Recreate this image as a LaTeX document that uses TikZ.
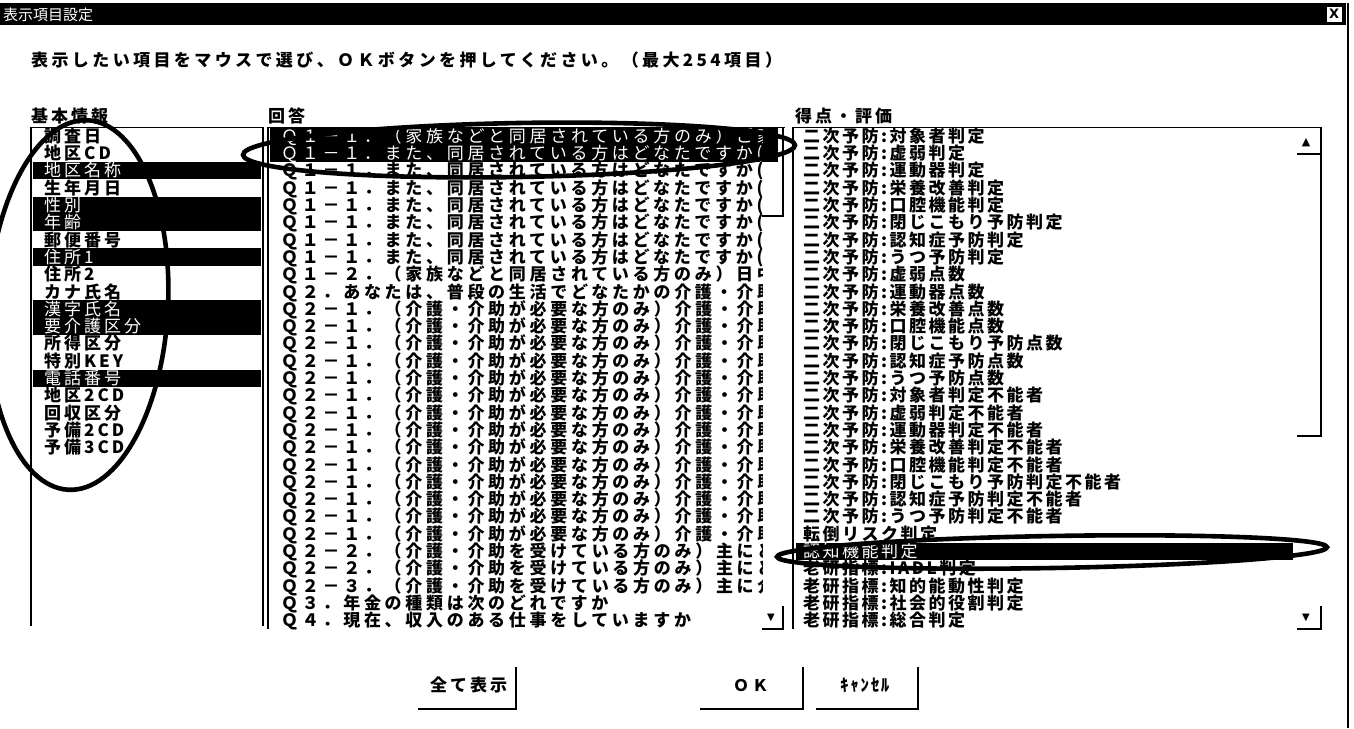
\documentclass[tikz,border=0pt]{standalone}
\usepackage{fontspec}
\usetikzlibrary{shapes.geometric}
\newfontfamily\jpA{Noto Sans CJK JP}
\newfontfamily\jpL[LetterSpace=17.6]{Noto Sans CJK JP}
\newfontfamily\jpM[LetterSpace=21.8]{Noto Sans CJK JP}
\newfontfamily\jpR[LetterSpace=14.7]{Noto Sans CJK JP}
\newfontfamily\jpI[LetterSpace=20]{Noto Sans CJK JP}
\newfontfamily\symf{DejaVu Sans}
\begin{document}
\begin{tikzpicture}[x=1pt,y=-1pt,
  frame/.style={line width=1.6pt},
  circ/.style={draw, ellipse, line width=4.6pt, inner sep=0pt},
  rowtxt/.style={anchor=base west, inner sep=0pt, text height=12.5pt, text depth=3.5pt},
  ltx/.style={rowtxt, font=\jpL\fontsize{17pt}{17pt}\selectfont},
  mtx/.style={rowtxt, font=\jpM\fontsize{17pt}{17pt}\selectfont},
  rtx/.style={rowtxt, font=\jpR\fontsize{17pt}{17pt}\selectfont},
  hdr/.style={anchor=base west, inner sep=0pt, font=\jpL\fontsize{17pt}{17pt}\selectfont\bfseries},
  nrm/.style={text=black, execute at begin node=\bfseries},
  sel/.style={text=white}]
\useasboundingbox (0,0) rectangle (1354,728);
\fill[white] (0,0) rectangle (1354,728);
% title bar
\fill[black] (0,3) rectangle (1346,25);
\node[anchor=base west, inner sep=0pt, text=white, font=\jpA\fontsize{15pt}{15pt}\selectfont] (title) at (3,20) {表示項目設定};
\node[draw=black, fill=white, line width=1pt, minimum width=16pt, minimum height=16pt, inner sep=0pt, font=\symf\bfseries\fontsize{13pt}{13pt}\selectfont] (closebtn) at (1334,14) {X};
\draw[line width=2pt] (1347.5,3) -- (1347.5,728);
% instruction
\node[anchor=base west, inner sep=0pt, font=\jpI\fontsize{17pt}{17pt}\selectfont\bfseries] (instr) at (31,66) {表示したい項目をマウスで選び、ＯＫボタンを押してください。（最大254項目）};
% headers
\node[hdr] (h1) at (31,122) {基本情報};
\node[hdr] (h2) at (268,122) {回答};
\node[hdr] (h3) at (795,122) {得点・評価};
% list frames
\draw[frame] (31,626) -- (31,127.5) -- (263,127.5) -- (263,626);
\draw[frame] (268,629) -- (268,127.5) -- (785,127.5);
\draw[frame] (762,216) -- (783,216) -- (783,127.5);
\draw[frame] (762,629) -- (783,629) -- (783,606);
\node[inner sep=0pt, font=\symf\fontsize{10pt}{10pt}\selectfont] (mdown) at (771,618) {▼};
\draw[frame] (793,629) -- (793,127.5) -- (1321,127.5) -- (1321,436) -- (1297,436);
\draw[frame] (1297,154) -- (1320,154);
\node[inner sep=0pt, font=\symf\fontsize{11pt}{11pt}\selectfont] (rup) at (1306,143) {▲};
\draw[frame] (1297,629) -- (1321,629) -- (1321,606);
\node[inner sep=0pt, font=\symf\fontsize{10pt}{10pt}\selectfont] (rdown) at (1306,618) {▼};
% left list
\foreach \n in {2,4,5,7,10,11,14} \fill (33,{127.35+17.3*\n}) rectangle (261,{144.65+17.3*\n});
\foreach \c/\t [count=\n from 0] in {nrm/調査日,nrm/地区CD,sel/地区名称,nrm/生年月日,sel/性別,sel/年齢,nrm/郵便番号,sel/住所1,nrm/住所2,nrm/カナ氏名,sel/漢字氏名,sel/要介護区分,nrm/所得区分,nrm/特別KEY,sel/電話番号,nrm/地区2CD,nrm/回収区分,nrm/予備2CD,nrm/予備3CD}
  \node[ltx,\c] (l\n) at (44,{142.3+17.3*\n}) {\t};
% middle list
\fill (270,127.35) rectangle (778,162);
\begin{scope}
\clip (269,120) rectangle (762,640);
\foreach \c/\t [count=\n from 0] in {sel/Ｑ１－１．（家族などと同居されている方のみ）ご家族,sel/Ｑ１－１．また、同居されている方はどなたですか(複数,nrm/Ｑ１－１．また、同居されている方はどなたですか(複数,nrm/Ｑ１－１．また、同居されている方はどなたですか(複数,nrm/Ｑ１－１．また、同居されている方はどなたですか(複数,nrm/Ｑ１－１．また、同居されている方はどなたですか(複数,nrm/Ｑ１－１．また、同居されている方はどなたですか(複数,nrm/Ｑ１－１．また、同居されている方はどなたですか(複数,nrm/Ｑ１－２．（家族などと同居されている方のみ）日中,nrm/Ｑ２．あなたは、普段の生活でどなたかの介護・介助は,nrm/Ｑ２－１．（介護・介助が必要な方のみ）介護・介助が,nrm/Ｑ２－１．（介護・介助が必要な方のみ）介護・介助が,nrm/Ｑ２－１．（介護・介助が必要な方のみ）介護・介助が,nrm/Ｑ２－１．（介護・介助が必要な方のみ）介護・介助が,nrm/Ｑ２－１．（介護・介助が必要な方のみ）介護・介助が,nrm/Ｑ２－１．（介護・介助が必要な方のみ）介護・介助が,nrm/Ｑ２－１．（介護・介助が必要な方のみ）介護・介助が,nrm/Ｑ２－１．（介護・介助が必要な方のみ）介護・介助が,nrm/Ｑ２－１．（介護・介助が必要な方のみ）介護・介助が,nrm/Ｑ２－１．（介護・介助が必要な方のみ）介護・介助が,nrm/Ｑ２－１．（介護・介助が必要な方のみ）介護・介助が,nrm/Ｑ２－１．（介護・介助が必要な方のみ）介護・介助が,nrm/Ｑ２－１．（介護・介助が必要な方のみ）介護・介助が,nrm/Ｑ２－１．（介護・介助が必要な方のみ）介護・介助が,nrm/Ｑ２－２．（介護・介助を受けている方のみ）主にどなた,nrm/Ｑ２－２．（介護・介助を受けている方のみ）主にどなた,nrm/Ｑ２－３．（介護・介助を受けている方のみ）主に介護,nrm/Ｑ３．年金の種類は次のどれですか,nrm/Ｑ４．現在、収入のある仕事をしていますか}
  \node[mtx,\c] (m\n) at (281,{142.3+17.3*\n}) {\t};
\end{scope}
% right list
\fill (796,{127.35+17.3*24}) rectangle (1293,{144.65+17.3*24});
\foreach \c/\t [count=\n from 0] in {nrm/二次予防:対象者判定,nrm/二次予防:虚弱判定,nrm/二次予防:運動器判定,nrm/二次予防:栄養改善判定,nrm/二次予防:口腔機能判定,nrm/二次予防:閉じこもり予防判定,nrm/二次予防:認知症予防判定,nrm/二次予防:うつ予防判定,nrm/二次予防:虚弱点数,nrm/二次予防:運動器点数,nrm/二次予防:栄養改善点数,nrm/二次予防:口腔機能点数,nrm/二次予防:閉じこもり予防点数,nrm/二次予防:認知症予防点数,nrm/二次予防:うつ予防点数,nrm/二次予防:対象者判定不能者,nrm/二次予防:虚弱判定不能者,nrm/二次予防:運動器判定不能者,nrm/二次予防:栄養改善判定不能者,nrm/二次予防:口腔機能判定不能者,nrm/二次予防:閉じこもり予防判定不能者,nrm/二次予防:認知症予防判定不能者,nrm/二次予防:うつ予防判定不能者,nrm/転倒リスク判定,sel/認知機能判定,nrm/老研指標:IADL判定,nrm/老研指標:知的能動性判定,nrm/老研指標:社会的役割判定,nrm/老研指標:総合判定}
  \node[rtx,\c] (r\n) at (803,{142.3+17.3*\n}) {\t};
% ellipses
\node[circ, minimum width=180pt, minimum height=370pt, rotate=-3] (e1) at (78,305) {};
\node[circ, minimum width=552pt, minimum height=54pt, rotate=1] (e2) at (519,150) {};
\node[circ, minimum width=550pt, minimum height=32pt, rotate=1] (e3) at (1052,552) {};
% buttons
\node[hdr] (b1) at (430,691) {全て表示};
\draw[frame] (418,709) -- (516,709) -- (516,667);
\node[anchor=base west, inner sep=0pt, font=\jpA\fontsize{16pt}{16pt}\selectfont\bfseries\addfontfeature{LetterSpace=20}] (b2) at (733,691) {ＯＫ};
\draw[frame] (700,709) -- (803,709) -- (803,667);
\node[anchor=base west, inner sep=0pt, font=\jpA\fontsize{17pt}{17pt}\selectfont\bfseries\addfontfeature{LetterSpace=10}] (b3) at (840,691) {ｷｬﾝｾﾙ};
\draw[frame] (816,709) -- (918,709) -- (918,667);
\end{tikzpicture}
\end{document}
